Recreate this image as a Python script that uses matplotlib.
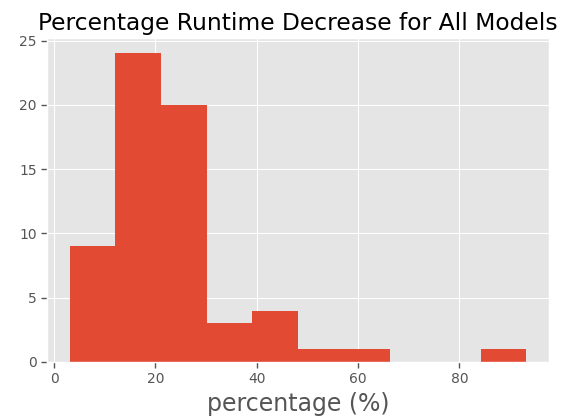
import numpy as np
import matplotlib
matplotlib.use('Agg')
import matplotlib.pyplot as plt

plt.style.use('ggplot')

# histogram of runtime decrease (%), 10 bins
bin_edges = [3.1, 12.1, 21.1, 30.1, 39.1, 48.1, 57.1, 66.2, 75.2, 84.2, 93.2]
counts = [9, 24, 20, 3, 4, 1, 1, 0, 0, 1]

fig = plt.figure(figsize=(5.7, 4.18), dpi=100)
ax = fig.add_axes([0.0825, 0.134, 0.881, 0.775])
ax.hist(bin_edges[:-1], bins=bin_edges, weights=counts)
ax.set_ylim(0, 25.2)
ax.set_xticks([0, 20, 40, 60, 80])
ax.set_yticks([0, 5, 10, 15, 20, 25])
ax.tick_params(labelsize=10, length=4, width=1, color='#555555', direction='out')
ax.set_title('Percentage Runtime Decrease for All Models', fontsize=16.8, color='black')
ax.set_xlabel('percentage (%)', fontsize=17)

fig.savefig('out.png', dpi=100)
